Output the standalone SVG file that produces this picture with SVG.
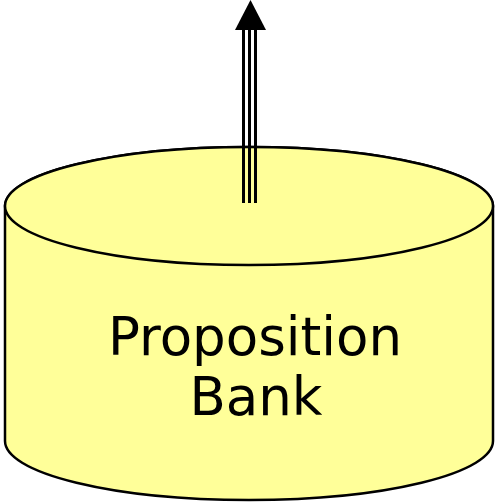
<svg xmlns="http://www.w3.org/2000/svg" width="495" height="503" viewBox="0 0 495 503">
<style>
.db{fill:#ffff99;stroke:#000;stroke-width:2.5}
.ln{stroke:#000;stroke-width:3;fill:none}
.t{font-family:"DejaVu Sans",Verdana,sans-serif;font-size:53px;text-anchor:middle;fill:#000}
</style>
<g id="bank">
<path class="db" d="M5,206 L5,441 A244,59 0 0 0 493,441 L493,206 A244,59 0 0 0 5,206 Z"/>
<ellipse class="db" cx="249" cy="206" rx="244" ry="59"/>
<text class="t" x="255" y="355">Proposition</text>
<text class="t" x="256" y="415">Bank</text>
</g>
<g id="connectors">
<line class="ln" x1="243.5" y1="203" x2="243.5" y2="28"/>
<line class="ln" x1="249.5" y1="203" x2="249.5" y2="28" stroke-width="4"/>
<line class="ln" x1="255.5" y1="203" x2="255.5" y2="28"/>
<polygon points="250.5,0 266,30 235,30" fill="#000"/>
</g>
</svg>
